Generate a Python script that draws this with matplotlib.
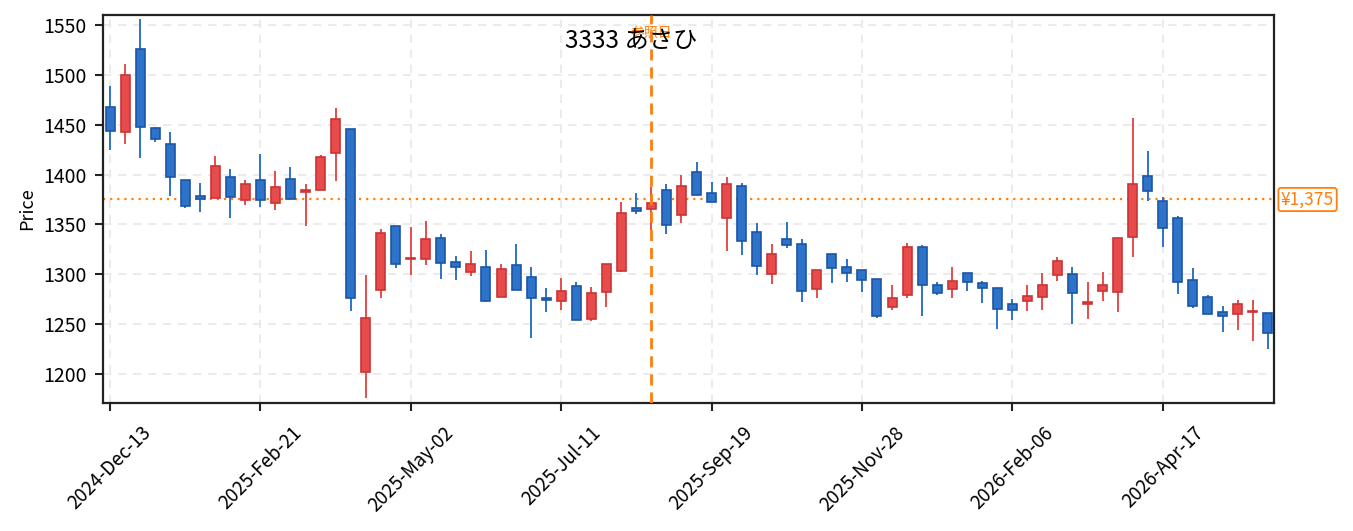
#!/usr/bin/env python3
import matplotlib
matplotlib.use("Agg")
import matplotlib.pyplot as plt
import matplotlib.transforms as mtransforms
from matplotlib.patches import Rectangle

plt.rcParams['font.family'] = ['Noto Sans CJK JP', 'DejaVu Sans']

# weekly candles
opens  = [1468, 1443, 1526, 1447, 1431, 1395, 1379, 1377, 1398, 1374,
          1395, 1371, 1396, 1383, 1385, 1422, 1446, 1202, 1284, 1348,
          1315, 1315, 1336, 1312, 1302, 1307, 1277, 1309, 1297, 1276,
          1273, 1288, 1255, 1282, 1303, 1366, 1365, 1385, 1359, 1403,
          1382, 1356, 1389, 1342, 1300, 1335, 1330, 1285, 1320, 1307,
          1304, 1295, 1267, 1279, 1327, 1289, 1285, 1301, 1291, 1286,
          1270, 1273, 1277, 1299, 1300, 1270, 1283, 1282, 1337, 1399,
          1373, 1356, 1294, 1277, 1262, 1260, 1262, 1261]
closes = [1444, 1500, 1448, 1436, 1398, 1368, 1375, 1409, 1378, 1391,
          1374, 1388, 1375, 1385, 1418, 1456, 1276, 1256, 1341, 1310,
          1316, 1335, 1311, 1307, 1310, 1273, 1305, 1284, 1276, 1274,
          1283, 1254, 1281, 1310, 1361, 1363, 1371, 1349, 1389, 1380,
          1372, 1391, 1333, 1308, 1320, 1329, 1283, 1304, 1306, 1301,
          1294, 1258, 1276, 1327, 1289, 1281, 1293, 1292, 1286, 1265,
          1264, 1278, 1289, 1313, 1281, 1272, 1289, 1336, 1391, 1384,
          1346, 1292, 1268, 1260, 1258, 1270, 1263, 1241]
highs  = [1489, 1511, 1556, 1448, 1443, 1395, 1392, 1419, 1406, 1395,
          1421, 1404, 1408, 1391, 1420, 1467, 1446, 1299, 1345, 1348,
          1347, 1353, 1340, 1318, 1323, 1324, 1310, 1330, 1307, 1286,
          1296, 1292, 1287, 1310, 1372, 1382, 1388, 1391, 1400, 1413,
          1393, 1398, 1392, 1351, 1330, 1352, 1335, 1304, 1320, 1315,
          1304, 1295, 1289, 1331, 1329, 1292, 1307, 1301, 1293, 1286,
          1275, 1289, 1301, 1317, 1307, 1292, 1302, 1336, 1457, 1424,
          1378, 1358, 1306, 1279, 1268, 1274, 1274, 1261]
lows   = [1425, 1431, 1417, 1433, 1379, 1366, 1362, 1376, 1356, 1369,
          1367, 1364, 1375, 1348, 1385, 1394, 1263, 1176, 1276, 1306,
          1299, 1309, 1295, 1294, 1298, 1272, 1277, 1284, 1236, 1262,
          1264, 1254, 1253, 1267, 1302, 1360, 1344, 1340, 1351, 1380,
          1372, 1323, 1319, 1299, 1290, 1326, 1272, 1276, 1291, 1292,
          1282, 1256, 1264, 1276, 1258, 1279, 1276, 1283, 1271, 1245,
          1254, 1263, 1264, 1293, 1250, 1255, 1273, 1262, 1317, 1373,
          1327, 1280, 1266, 1260, 1242, 1244, 1233, 1225]

tick_pos = [0, 10, 20, 30, 40, 50, 60, 70]
tick_labels = ["2024-Dec-13", "2025-Feb-21", "2025-May-02", "2025-Jul-11",
               "2025-Sep-19", "2025-Nov-28", "2026-Feb-06", "2026-Apr-17"]

ref_idx = 36
last_price = 1375
title = "3333 あさひ"

UP_FACE, UP_EDGE = "#e84b4b", "#cc3333"
DN_FACE, DN_EDGE = "#2c73c9", "#1c55a6"
ORANGE = "#ff7f0e"

fig = plt.figure(figsize=(13.53, 5.31), dpi=100)
ax = fig.add_axes([0.0761, 0.241, 0.8655, 0.7309])

w = 0.6
for i in range(len(opens)):
    o, c, h, l = opens[i], closes[i], highs[i], lows[i]
    up = c >= o
    face = UP_FACE if up else DN_FACE
    edge = UP_EDGE if up else DN_EDGE
    ax.vlines(i, l, h, color=face, linewidth=1.4, zorder=2)
    lo = min(o, c)
    ht = max(abs(c - o), 1.0)
    ax.add_patch(Rectangle((i - w / 2, lo), w, ht, facecolor=face,
                           edgecolor=edge, linewidth=1.2, zorder=3))

ax.axhline(last_price, color=ORANGE, linestyle=(0, (1, 2.2)), linewidth=1.6, zorder=1)
ax.axvline(ref_idx, color=ORANGE, linestyle=(0, (4, 2.5)), linewidth=2, zorder=4)

trans = mtransforms.blended_transform_factory(ax.transAxes, ax.transData)
ax.text(1.006, last_price, "¥1,375", transform=trans, color=ORANGE,
        fontsize=12.5, ha="left", va="center",
        bbox=dict(boxstyle="round,pad=0.15", facecolor="white", edgecolor=ORANGE, linewidth=1.3))

ax.text(ref_idx, 1542, "参照日", color=ORANGE, fontsize=10, ha="center", va="center", zorder=5)
ax.text(0.451, 0.933, title, transform=ax.transAxes, fontsize=17.5,
        ha="center", va="center", zorder=6)

ax.set_xlim(-0.47, 77.4)
ax.set_ylim(1171, 1560)
ax.set_yticks(range(1200, 1551, 50))
ax.set_xticks(tick_pos)
ax.set_xticklabels(tick_labels, rotation=45, fontsize=13.5)
ax.tick_params(axis="y", labelsize=14, pad=6)
ax.tick_params(axis="x", pad=8)
ax.tick_params(length=6, width=1.5, color="#222222")
ax.set_ylabel("Price", fontsize=13, labelpad=5)

ax.grid(True, linestyle=(0, (5, 4)), color="#e8e8e8", linewidth=1.2)
ax.set_axisbelow(True)
for s in ax.spines.values():
    s.set_linewidth(1.6)
    s.set_color("#222222")

plt.savefig("out.png", dpi=100)
